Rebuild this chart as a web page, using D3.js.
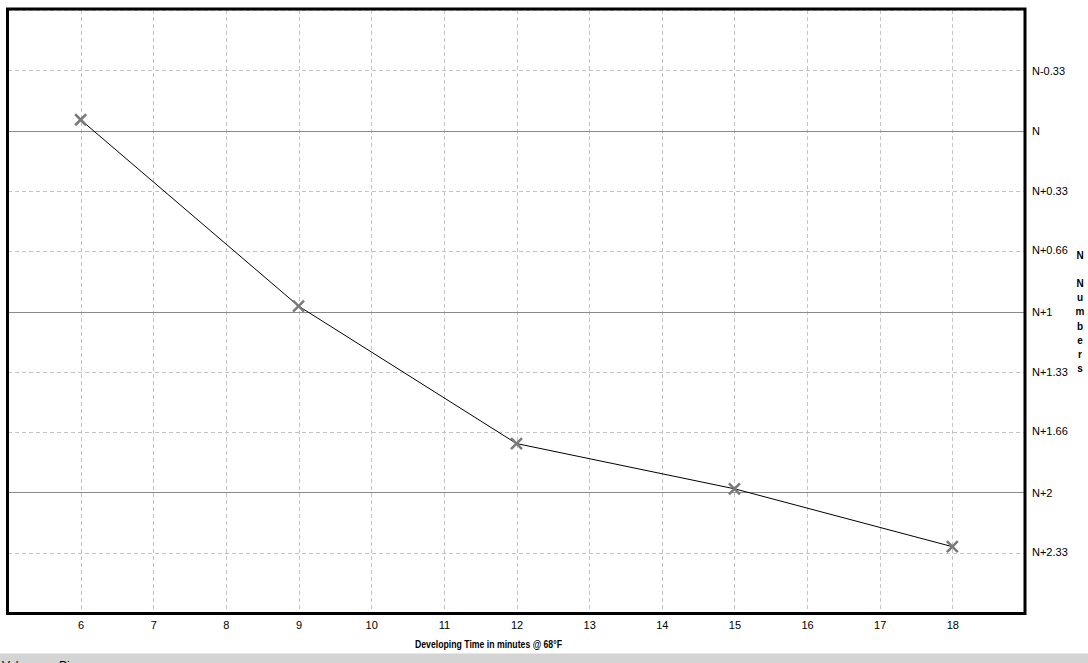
<!DOCTYPE html>
<html><head><meta charset="utf-8">
<script src="https://cdn.jsdelivr.net/npm/d3@7"></script>
<style>html,body{margin:0;padding:0;background:#fff;overflow:hidden}svg{display:block}</style>
</head><body>
<script>
const devTimes = [6, 9, 12, 15, 18];
const nValues = [-0.06, 0.97, 1.73, 1.98, 2.3];
const xTicks = [6, 7, 8, 9, 10, 11, 12, 13, 14, 15, 16, 17, 18];
const xGrid = [5, 6, 7, 8, 9, 10, 11, 12, 13, 14, 15, 16, 17, 18, 19];
const yTicks = [-0.33, 0, 0.33, 0.66, 1, 1.33, 1.66, 2, 2.33];
const yTickLabels = ["N-0.33", "N", "N+0.33", "N+0.66", "N+1", "N+1.33", "N+1.66", "N+2", "N+2.33"];
const yGrid = [-0.6667, -0.3333, 0, 0.3333, 0.6667, 1, 1.3333, 1.6667, 2, 2.3333];
const majorLines = [0, 1, 2];
const xTitle = "Developing Time in minutes @ 68°F";
const yTitle = "N Numbers";

const W = 1088, H = 663;
const svg = d3.select("body").append("svg").attr("width", W).attr("height", H);
const x = d3.scaleLinear().domain([5, 19]).range([8, 1025]);
const y = d3.scaleLinear().domain([-2/3, 8/3]).range([10, 613]);

// bottom status strip
svg.append("rect").attr("x", 0).attr("y", 653).attr("width", W).attr("height", 1).attr("fill", "#e8e8e8");
svg.append("rect").attr("x", 0).attr("y", 654).attr("width", W).attr("height", 9).attr("fill", "#d4d4d4");
svg.append("text").attr("x", 2).attr("y", 670).attr("font-family", "Liberation Sans, Arial, sans-serif").attr("font-size", 12).text("Value");
svg.append("text").attr("x", 59).attr("y", 670).attr("font-family", "Liberation Sans, Arial, sans-serif").attr("font-size", 12).text("Pi");

const g = svg.append("g");
// vertical dashed grid
g.selectAll(".vg").data(xGrid).enter().append("line")
  .attr("x1", d => Math.round(x(d)) + 0.5).attr("x2", d => Math.round(x(d)) + 0.5)
  .attr("y1", y(-2/3)).attr("y2", y(8/3))
  .attr("stroke", "#c4c4c4").attr("stroke-width", 1).attr("stroke-dasharray", "4,3");
// horizontal grid
g.selectAll(".hg").data(yGrid.filter(v => !majorLines.some(m => Math.abs(m - v) < 1e-3))).enter().append("line")
  .attr("x1", x(5)).attr("x2", x(19))
  .attr("y1", d => Math.round(y(d)) + 0.5).attr("y2", d => Math.round(y(d)) + 0.5)
  .attr("stroke", "#c4c4c4").attr("stroke-width", 1).attr("stroke-dasharray", "4,3");
g.selectAll(".mg").data(majorLines).enter().append("line")
  .attr("x1", x(5)).attr("x2", x(19))
  .attr("y1", d => Math.round(y(d)) + 0.5).attr("y2", d => Math.round(y(d)) + 0.5)
  .attr("stroke", "#8a8a8a").attr("stroke-width", 1);

// frame
svg.append("rect").attr("x", 7.5).attr("y", 9).attr("width", 1017.5).attr("height", 604.5)
  .attr("fill", "none").attr("stroke", "#000").attr("stroke-width", 3);

// data line
const pts = devTimes.map((t, i) => [t, nValues[i]]);
svg.append("path").datum(pts)
  .attr("d", d3.line().x(d => x(d[0])).y(d => y(d[1])))
  .attr("fill", "none").attr("stroke", "#000").attr("stroke-width", 1);
// X markers
const s = 5.5;
svg.selectAll(".mk").data(pts).enter().append("path")
  .attr("d", d => {
    const cx = x(d[0]), cy = y(d[1]);
    return `M${cx - s},${cy - s}L${cx + s},${cy + s}M${cx - s},${cy + s}L${cx + s},${cy - s}`;
  })
  .attr("stroke", "#7a7a7a").attr("stroke-width", 2.5).attr("fill", "none");

// x axis labels
const xAxis = d3.axisBottom(x).tickValues(xTicks).tickSize(0).tickPadding(0).tickFormat(d3.format("d"));
const xa = svg.append("g").attr("transform", "translate(0,621)").call(xAxis);
xa.select(".domain").remove();
xa.selectAll("text").attr("font-family", "Liberation Sans, Arial, sans-serif").attr("font-size", 11).attr("fill", "#000").attr("dy", "0.71em");

// y axis labels (right)
const yAxis = d3.axisRight(y).tickValues(yTicks).tickSize(0).tickPadding(0).tickFormat((d, i) => yTickLabels[i]);
const ya = svg.append("g").attr("transform", "translate(1032,0)").call(yAxis);
ya.select(".domain").remove();
ya.selectAll("text").attr("font-family", "Liberation Sans, Arial, sans-serif").attr("font-size", 11).attr("fill", "#000").attr("dy", "0.35em");

// x title
svg.append("text").attr("x", 415).attr("y", 648)
  .attr("font-family", "Liberation Sans, Arial, sans-serif").attr("font-size", 10.5).attr("font-weight", "bold")
  .attr("textLength", 147).attr("lengthAdjust", "spacingAndGlyphs").text(xTitle);

// y title stacked
const chars = yTitle.split("");
svg.selectAll(".yt").data(chars).enter().append("text")
  .attr("x", 1080).attr("y", (d, i) => 259 + i * 14.1)
  .attr("text-anchor", "middle")
  .attr("font-family", "Liberation Sans, Arial, sans-serif").attr("font-size", 10).attr("font-weight", "bold")
  .text(d => d);
</script>
</body></html>
